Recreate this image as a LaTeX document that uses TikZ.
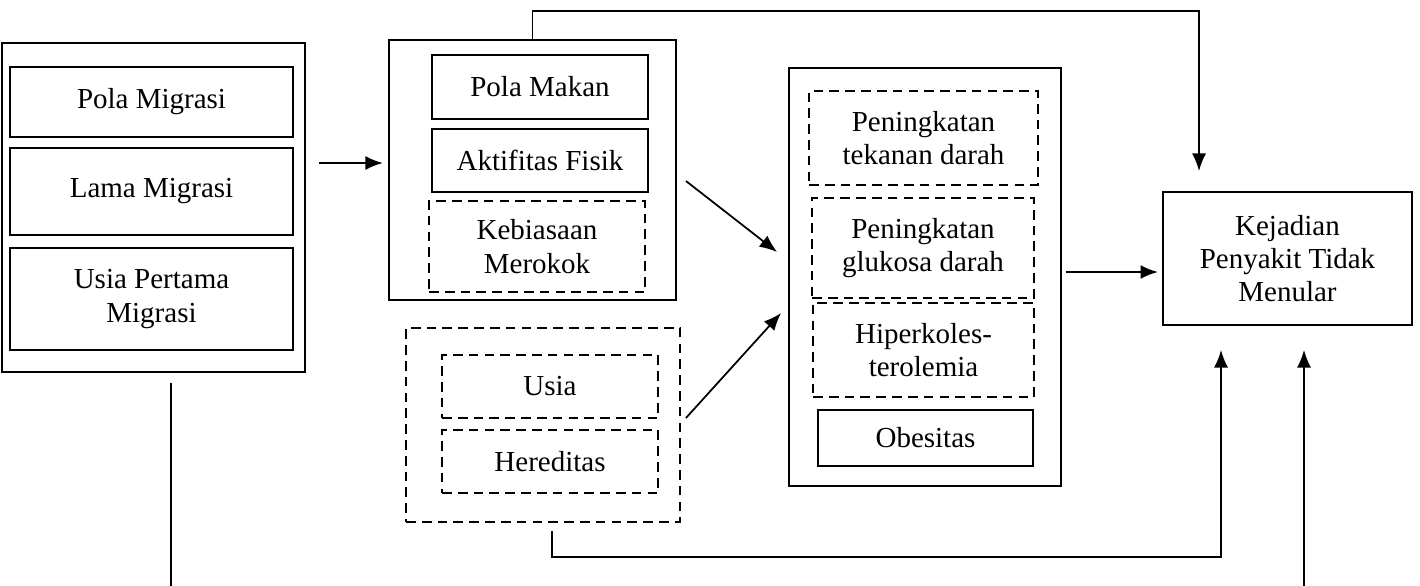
\documentclass[tikz,border=0pt]{standalone}
\usepackage{fontspec}
\setmainfont{Liberation Serif}
\usetikzlibrary{arrows.meta}
\begin{document}
\begin{tikzpicture}[x=0.02cm,y=-0.02cm,
   kotak/.style={draw, line width=0.8pt, align=center, inner sep=2pt, font=\fontsize{16.5}{19}\selectfont},
   luar/.style={draw, line width=1.1pt},
   putus/.style={dash pattern=on 5.5pt off 3.5pt},
   panah/.style={line width=1pt, -{Latex[length=10pt,width=8pt]}}]
   \useasboundingbox (0,0) rectangle (1420,585);
   \clip (0,0) rectangle (1420,585);

   % migrasi
   \node[luar, minimum width=6.06cm, minimum height=6.58cm] (mig) at (153.5,207.5) {};
   \node[kotak, minimum width=5.66cm, minimum height=1.40cm] (polamig) at (151.5,102) {Pola Migrasi};
   \node[kotak, minimum width=5.66cm, minimum height=1.74cm] (lamamig) at (151.5,191.5) {Lama Migrasi};
   \node[kotak, minimum width=5.66cm, minimum height=2.04cm] (usiamig) at (151.5,299) {Usia Pertama\\Migrasi};

   % gaya hidup
   \node[luar, minimum width=5.74cm, minimum height=5.2cm] (gaya) at (532.5,170) {};
   \node[kotak, minimum width=4.32cm, minimum height=1.28cm] (makan) at (540,87) {Pola Makan};
   \node[kotak, minimum width=4.32cm, minimum height=1.26cm] (fisik) at (540,160.5) {Aktifitas Fisik};
   \node[kotak, putus, minimum width=4.32cm, minimum height=1.82cm] (rokok) at (537,246.5) {Kebiasaan\\Merokok};

   % faktor bawaan
   \node[luar, putus, minimum width=5.48cm, minimum height=3.88cm] (bawaan) at (543,425) {};
   \node[kotak, putus, minimum width=4.32cm, minimum height=1.26cm] (usia) at (550,386.5) {Usia};
   \node[kotak, putus, minimum width=4.32cm, minimum height=1.26cm] (hered) at (550,461.5) {Hereditas};

   % faktor antara
   \node[luar, minimum width=5.44cm, minimum height=8.36cm] (antara) at (925,277) {};
   \node[kotak, putus, minimum width=4.58cm, minimum height=1.88cm] (tensi) at (923.5,138) {Peningkatan\\tekanan darah};
   \node[kotak, putus, minimum width=4.44cm, minimum height=2.0cm] (gula) at (923,248) {Peningkatan\\glukosa darah};
   \node[kotak, putus, minimum width=4.42cm, minimum height=1.88cm] (koles) at (923.5,350) {Hiperkoles-\\terolemia};
   \node[kotak, minimum width=4.3cm, minimum height=1.12cm] (obes) at (925.5,438) {Obesitas};

   \node[kotak, line width=1.1pt, minimum width=4.98cm, minimum height=2.66cm] (ptm) at (1287.5,258.5) {Kejadian\\Penyakit Tidak\\Menular};

   \coordinate (ymig) at (0,163);
   \coordinate (yptm) at (0,272);
   \draw[panah, line width=1.4pt, shorten <=0.26cm, shorten >=0.1cm] (mig.east |- ymig) -- (gaya.west |- ymig);
   \draw[panah] ([shift={(0.18cm,-0.22cm)}]gaya.east) -- ([shift={(-0.22cm,0.5cm)}]antara.west);
   \draw[panah] ([shift={(0.1cm,0.14cm)}]bawaan.east) -- ([shift={(-0.14cm,-0.72cm)}]antara.west);
   \draw[panah, line width=1.2pt, shorten <=0.08cm, shorten >=0.08cm] (antara.east |- yptm) -- (ptm.west |- yptm);
   \draw[panah, shorten >=0.4cm] (gaya.north) -- ++(0,-28) -| ([xshift=-1.77cm]ptm.north);
   \draw[panah, shorten <=0.16cm, shorten >=0.48cm] ([xshift=0.18cm]bawaan.south) -- ++(0,34) -| ([xshift=-1.33cm]ptm.south);
   \draw[panah, shorten <=0.2cm, shorten >=0.48cm] ([xshift=0.35cm]mig.south) -- ++(0,235) -| ([xshift=0.33cm]ptm.south);
\end{tikzpicture}
\end{document}
